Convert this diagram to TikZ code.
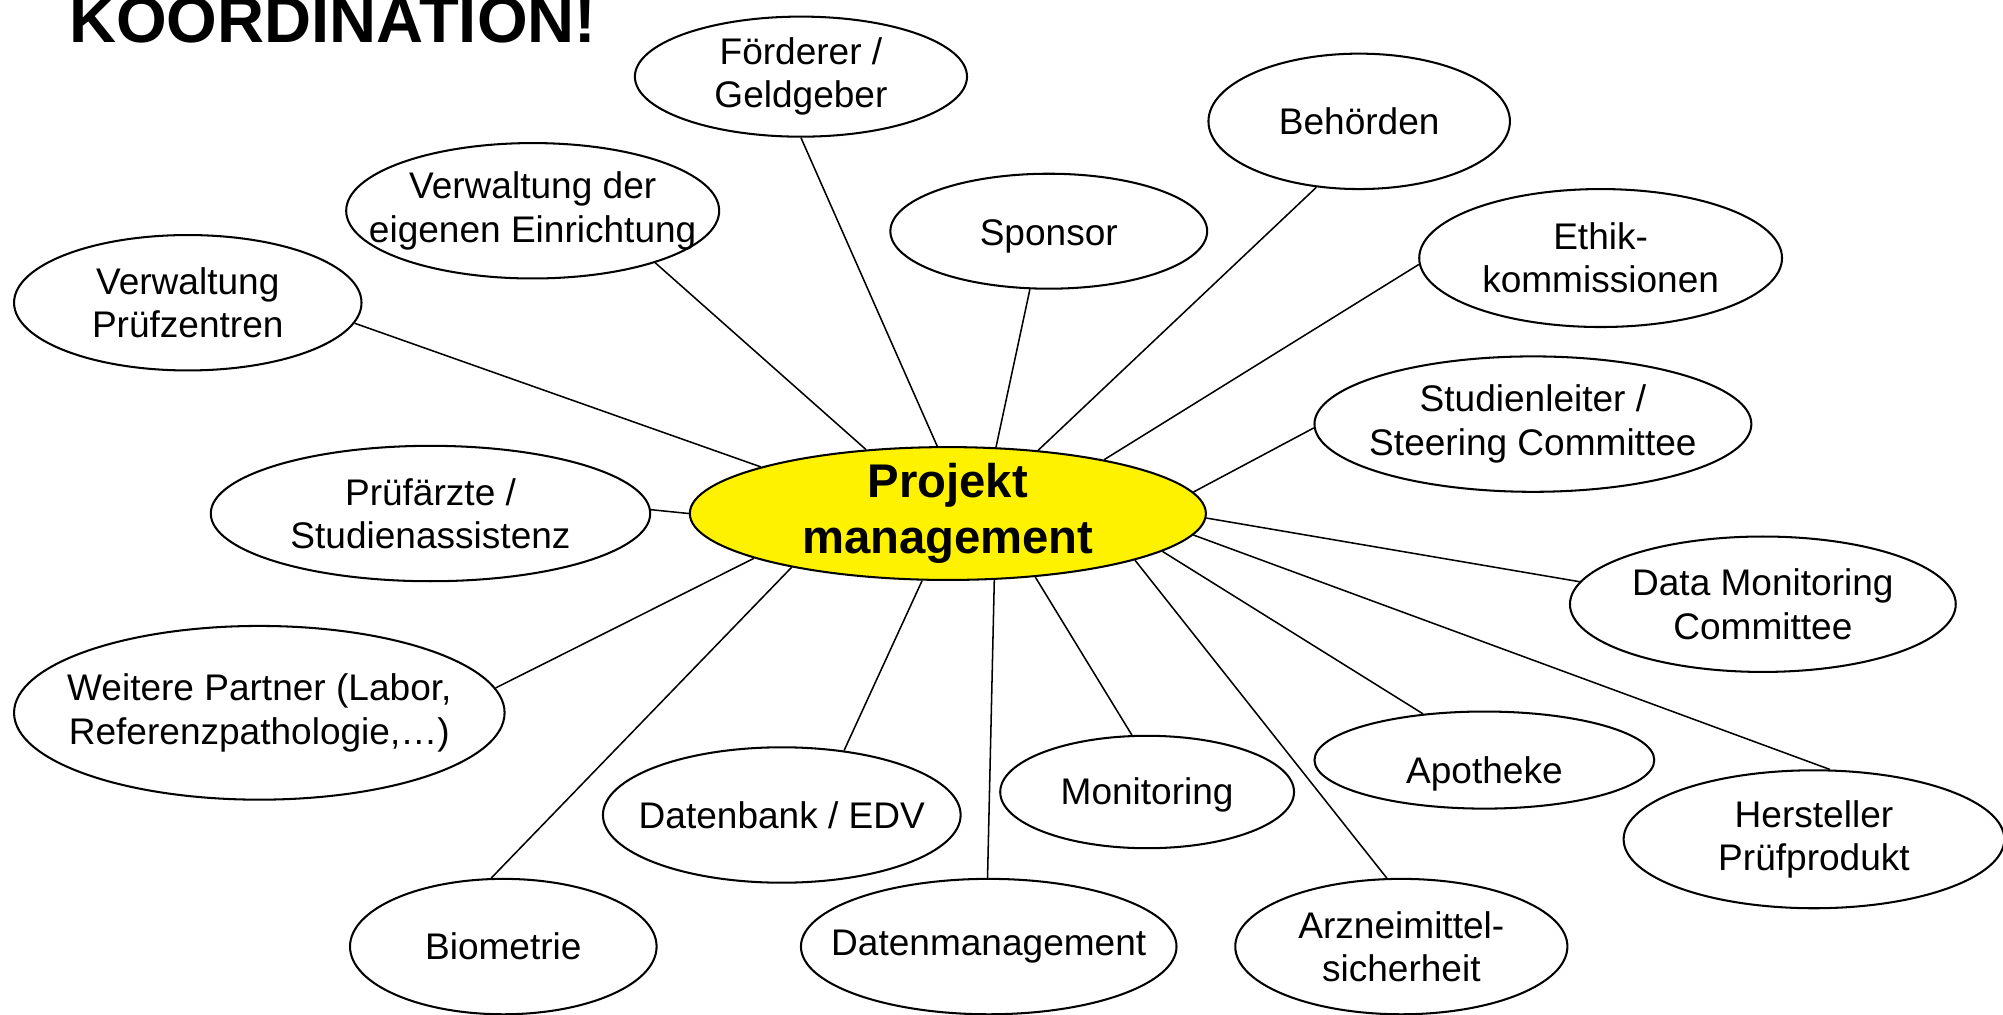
\documentclass[tikz,border=0pt]{standalone}
\usepackage{fontspec}
\setmainfont{Liberation Sans}
\usetikzlibrary{shapes.geometric}
\begin{document}
\begin{tikzpicture}[x=1pt,y=-1pt,
  leaf/.style={ellipse, draw=black, line width=1.6pt, fill=white, inner sep=-100pt, align=center, font=\fontsize{29}{34}\selectfont},
  hub/.style={ellipse, draw=black, line width=1.6pt, fill=yellow, inner sep=-100pt, align=center, font=\fontsize{37}{44}\selectfont\bfseries},
  link/.style={draw=black, line width=1.2pt},
  titletext/.style={anchor=base west, inner sep=0pt, font=\fontsize{51}{61}\selectfont\bfseries}
]
\useasboundingbox (0,0) rectangle (1568,794);

\node[titletext] (title) at (54,33) {KOORDINATION!};

\node[hub, minimum width=404pt, minimum height=104pt] (pm) at (742,402) {Projekt\\management};

\node[leaf, minimum width=272pt, minimum height=106pt] (vp) at (147,237) {Verwaltung\\Prüfzentren};
\node[leaf, minimum width=292pt, minimum height=106pt] (ve) at (417,165) {Verwaltung der\\eigenen Einrichtung};
\node[leaf, minimum width=260pt, minimum height=94pt] (fg) at (627,60) {Förderer /\\Geldgeber};
\node[leaf, minimum width=248pt, minimum height=90pt, text height=22pt, text depth=0pt] (sp) at (821,181) {Sponsor};
\node[leaf, minimum width=236pt, minimum height=106pt] (be) at (1064,95) {Behörden};
\node[leaf, minimum width=284pt, minimum height=108pt] (ek) at (1253,202) {Ethik-\\kommissionen};
\node[leaf, minimum width=342pt, minimum height=106pt] (sl) at (1200,332) {Studienleiter /\\Steering Committee};
\node[leaf, minimum width=302pt, minimum height=106pt] (dmc) at (1380,473) {Data Monitoring\\Committee};
\node[leaf, minimum width=298pt, minimum height=108pt] (hp) at (1420,657) {Hersteller\\Prüfprodukt};
\node[leaf, minimum width=266pt, minimum height=76pt, text height=36pt, text depth=0pt] (ap) at (1162,595) {Apotheke};
\node[leaf, minimum width=260pt, minimum height=106pt] (am) at (1097,741) {Arzneimittel-\\sicherheit};
\node[leaf, minimum width=230pt, minimum height=88pt, text height=20pt, text depth=0pt] (mo) at (898,620) {Monitoring};
\node[leaf, minimum width=294pt, minimum height=106pt] (dm) at (774,741) {Datenmanagement};
\node[leaf, minimum width=280pt, minimum height=106pt] (db) at (612,638) {Datenbank / EDV};
\node[leaf, minimum width=240pt, minimum height=106pt] (bi) at (394,741) {Biometrie};
\node[leaf, minimum width=384pt, minimum height=136pt] (wp) at (203,558) {Weitere Partner (Labor,\\Referenzpathologie,…)};
\node[leaf, minimum width=344pt, minimum height=106pt] (pa) at (337,402) {Prüfärzte /\\Studienassistenz};

\draw[link] (pm.166.3) -- (vp.-7.1);
\draw[link] (pm.142.5) -- (ve.-23.6);
\draw[link] (pm.99.3) -- (fg.-90);
\draw[link] (pm.54.4) -- (sp.-108.8);
\draw[link] (pm.35.6) -- (be.-123.4);
\draw[link] (pm.19.1) -- (ek.182.4);
\draw[link] (pm.5.4) -- (sl.181.7);
\draw[link] (pm.-1.4) -- (dmc.173.6);
\draw[link] (pm.-5.5) -- (hp.77.5);
\draw[link] (pm.-10.2) -- (ap.143.3);
\draw[link] (pm.-14.9) -- (am.102.8);
\draw[link] (pm.-36.6) -- (mo.105.3);
\draw[link] (pm.-55.4) -- (dm.91);
\draw[link] (pm.-111.8) -- (db.46.1);
\draw[link] (pm.-161.4) -- (bi.100.7);
\draw[link] (pm.-167.5) -- (wp.6.1);
\draw[link] (pm.180) -- (pa.1.3);
\end{tikzpicture}
\end{document}
